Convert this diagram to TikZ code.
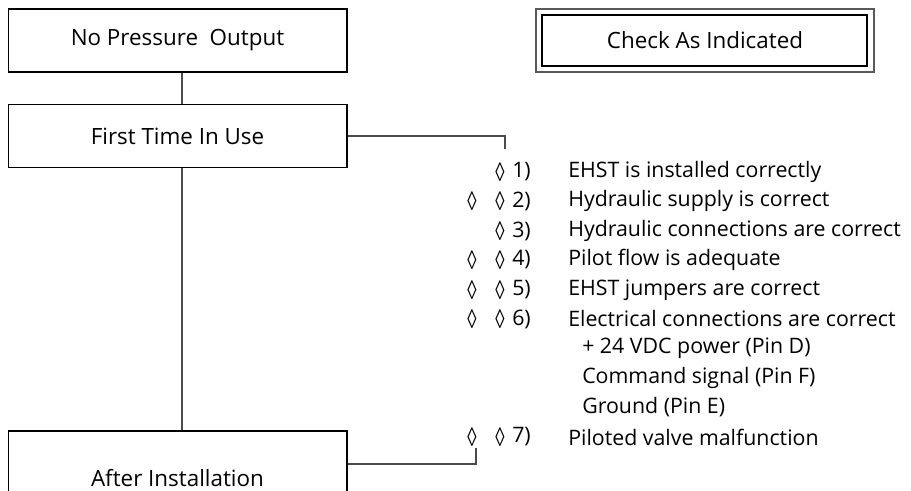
\documentclass[tikz,border=0pt]{standalone}
\usepackage{fontspec}
\setmainfont{Open Sans}
\newfontfamily\lozfont{Liberation Sans}
\usetikzlibrary{positioning}
\newcommand{\lozmark}{\scalebox{0.7}[1]{◊}}

\begin{document}
\begin{tikzpicture}[x=0.75pt, y=-0.75pt, box/.style={draw=black, line width=1pt, minimum width=254pt, minimum height=47.25pt, inner sep=0pt, font=\fontsize{16.8}{19}\selectfont},%
        link/.style={draw=black!70, line width=1pt}, item/.style={anchor=west, inner sep=0pt, font=\fontsize{16}{18}\selectfont}, loz/.style={inner sep=0pt, font=\lozfont\fontsize{20}{22}\selectfont}]
        \useasboundingbox (0,0) rectangle (911,491);
        % boxes on the left
        \node[box] (np) at (177.5,40.5) {No Pressure\ \ Output};
        \node[box] (ft) at (177.5,136) {First Time In Use};
        \node[box, minimum height=70.5pt] (af) at (177.5,478) {After Installation};
        % legend box
        \node[box, draw=black!65, line width=1.6pt, minimum width=253.5pt] (chk) at (705,40.5) {Check As Indicated};
        \draw[line width=0.9pt] ([shift={(7,7)}]chk.north west) rectangle ([shift={(-8,-7)}]chk.south east);
        % connectors
        \draw[link] ([xshift=3.4pt]np.south) -- ([xshift=3.4pt]ft.north);
        \draw[link] ([xshift=3.4pt]ft.south) -- ([xshift=3.4pt]af.north);
        \coordinate (c1) at (505,149);
        \coordinate (c7) at (476,448);
        \draw[link] (ft.east) -| (c1);
        \draw[link] (af.east |- 0,464) -| (c7);
        % checks
        \node[loz] (b1) at (500,172) {\lozmark};
        \node[item] (n1) at (512,172) {1)};
        \node[item] (t1) at (568,172) {EHST is installed correctly};
        \node[loz] (a2) at (472,201) {\lozmark};
        \node[loz] (b2) at (500,201) {\lozmark};
        \node[item] (n2) at (512,201) {2)};
        \node[item] (t2) at (568,201) {Hydraulic supply is correct};
        \node[loz] (b3) at (500,231) {\lozmark};
        \node[item] (n3) at (512,231) {3)};
        \node[item] (t3) at (568,231) {Hydraulic connections are correct};
        \node[loz] (a4) at (472,260) {\lozmark};
        \node[loz] (b4) at (500,260) {\lozmark};
        \node[item] (n4) at (512,260) {4)};
        \node[item] (t4) at (568,260) {Pilot flow is adequate};
        \node[loz] (a5) at (472,290) {\lozmark};
        \node[loz] (b5) at (500,290) {\lozmark};
        \node[item] (n5) at (512,290) {5)};
        \node[item] (t5) at (568,290) {EHST jumpers are correct};
        \node[loz] (a6) at (472,319) {\lozmark};
        \node[loz] (b6) at (500,319) {\lozmark};
        \node[item] (n6) at (512,319) {6)};
        \node[item] (t6) at (568,319) {Electrical connections are correct};
        \node[item] (s1) at (582,348) {+ 24 VDC power (Pin D)};
        \node[item] (s2) at (582,378) {Command signal (Pin F)};
        \node[item] (s3) at (582,407) {Ground (Pin E)};
        \node[loz] (a7) at (472,437) {\lozmark};
        \node[loz] (b7) at (500,437) {\lozmark};
        \node[item] (n7) at (512,437) {7)};
        \node[item] (t7) at (568,437) {Piloted valve malfunction};
\end{tikzpicture}
\end{document}
